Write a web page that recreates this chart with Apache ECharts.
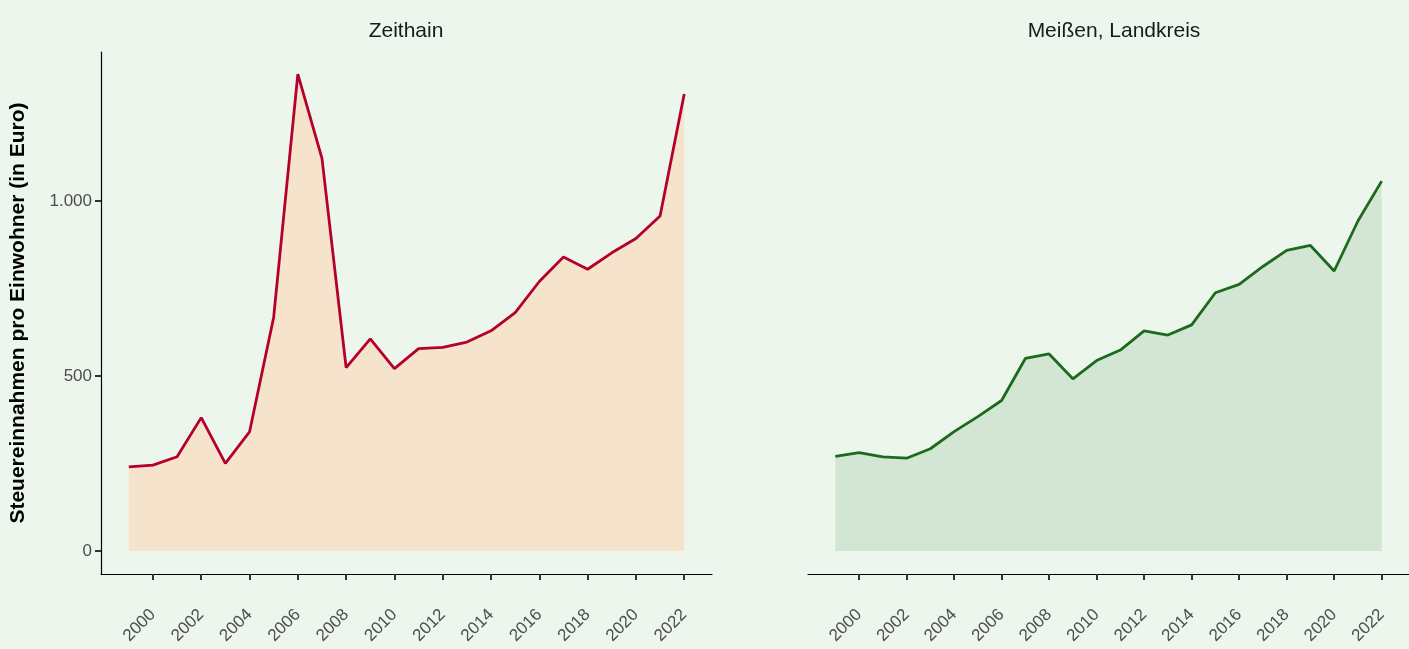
<!DOCTYPE html>
<html>
<head>
    <meta charset="utf-8">
    <title>Steuereinnahmen pro Einwohner</title>
    <script src="https://cdn.jsdelivr.net/npm/echarts@6.0.0/dist/echarts.min.js"></script>
    <style>
        html, body { margin: 0; padding: 0; background: #edf6ec; }
        #main { width: 1409px; height: 649px; }
    </style>
</head>
<body>
    <div id="main"></div>
    <script>
        // Jahre und Werte (Euro pro Einwohner)
        var years = [1999, 2000, 2001, 2002, 2003, 2004, 2005, 2006, 2007, 2008, 2009, 2010,
                     2011, 2012, 2013, 2014, 2015, 2016, 2017, 2018, 2019, 2020, 2021, 2022];
        var zeithain = [240, 245, 269, 381, 250, 340, 668, 1363, 1122, 524, 606, 521,
                        578, 582, 597, 629, 681, 770, 840, 805, 852, 893, 957, 1306];
        var meissen = [270, 281, 269, 265, 292, 341, 384, 430, 550, 563, 492, 544,
                       574, 629, 617, 646, 738, 762, 813, 859, 873, 800, 943, 1057];
        var xTicks = [2000, 2002, 2004, 2006, 2008, 2010, 2012, 2014, 2016, 2018, 2020, 2022];
        var yTicks = [0, 500, 1000];
        var panels = ['Zeithain', 'Meißen, Landkreis'];

        var font = 'Liberation Sans, Arial, sans-serif';

        function pairs(vals) {
            var out = [];
            for (var i = 0; i < years.length; i++) {
                out.push([years[i], vals[i]]);
            }
            return out;
        }

        function fmtNum(v) {
            // deutsches Tausendertrennzeichen
            return String(v).replace(/\B(?=(\d{3})+(?!\d))/g, '.');
        }

        function xAxisFor(idx) {
            return {
                type: 'value',
                gridIndex: idx,
                min: 1997.85,
                max: 2023.15,
                splitLine: { show: false },
                axisLine: { show: true, onZero: false, lineStyle: { color: '#000', width: 1.2 } },
                axisTick: { show: true, customValues: xTicks, length: 6, lineStyle: { color: '#333', width: 2 } },
                axisLabel: {
                    customValues: xTicks,
                    rotate: 45,
                    margin: 38,
                    color: '#4d4d4d',
                    fontSize: 17,
                    fontFamily: font,
                    formatter: function (v) { return String(v); }
                }
            };
        }

        var myChart = echarts.init(document.getElementById('main'));
        var option = {
            backgroundColor: '#edf6ec',
            animation: false,
            title: [{
                text: panels[0],
                left: 401, top: 16,
                textAlign: 'center',
                textStyle: { fontSize: 21, fontWeight: 'normal', color: '#1a1a1a', fontFamily: font }
            }, {
                text: panels[1],
                left: 1109, top: 16,
                textAlign: 'center',
                textStyle: { fontSize: 21, fontWeight: 'normal', color: '#1a1a1a', fontFamily: font }
            }],
            graphic: [{
                // abgeschnittene Zeile oben links
                type: 'text',
                left: 15, top: -20,
                style: { text: '(in Euro, 2022)', fill: '#1a1a1a', font: '20px ' + font }
            }],
            grid: [
                { left: 101, top: 52, width: 611, height: 522 },
                { left: 808, top: 52, width: 611, height: 522 }
            ],
            xAxis: [xAxisFor(0), xAxisFor(1)],
            yAxis: [{
                type: 'value',
                gridIndex: 0,
                min: -66,
                max: 1426,
                name: 'Steuereinnahmen pro Einwohner (in Euro)',
                nameLocation: 'middle',
                nameRotate: 90,
                nameGap: 72,
                nameTextStyle: { fontSize: 21, fontWeight: 'bold', color: '#000', fontFamily: font },
                splitLine: { show: false },
                axisLine: { show: true, lineStyle: { color: '#000', width: 1.2 } },
                axisTick: { show: true, customValues: yTicks, length: 6, lineStyle: { color: '#333', width: 2 } },
                axisLabel: {
                    customValues: yTicks,
                    margin: 9,
                    color: '#4d4d4d',
                    fontSize: 17,
                    fontFamily: font,
                    formatter: fmtNum
                }
            }, {
                type: 'value',
                gridIndex: 1,
                min: -66,
                max: 1426,
                show: false,
                splitLine: { show: false }
            }],
            series: [{
                name: panels[0],
                type: 'line',
                xAxisIndex: 0,
                yAxisIndex: 0,
                data: pairs(zeithain),
                symbol: 'none',
                lineStyle: { color: '#b5002b', width: 2.8 },
                areaStyle: { color: '#f5e3cc', opacity: 1, origin: 0 }
            }, {
                name: panels[1],
                type: 'line',
                xAxisIndex: 1,
                yAxisIndex: 1,
                data: pairs(meissen),
                symbol: 'none',
                lineStyle: { color: '#1c6b1c', width: 2.8 },
                areaStyle: { color: '#d3e5d3', opacity: 1, origin: 0 }
            }]
        };
        myChart.setOption(option);
    </script>
</body>
</html>
